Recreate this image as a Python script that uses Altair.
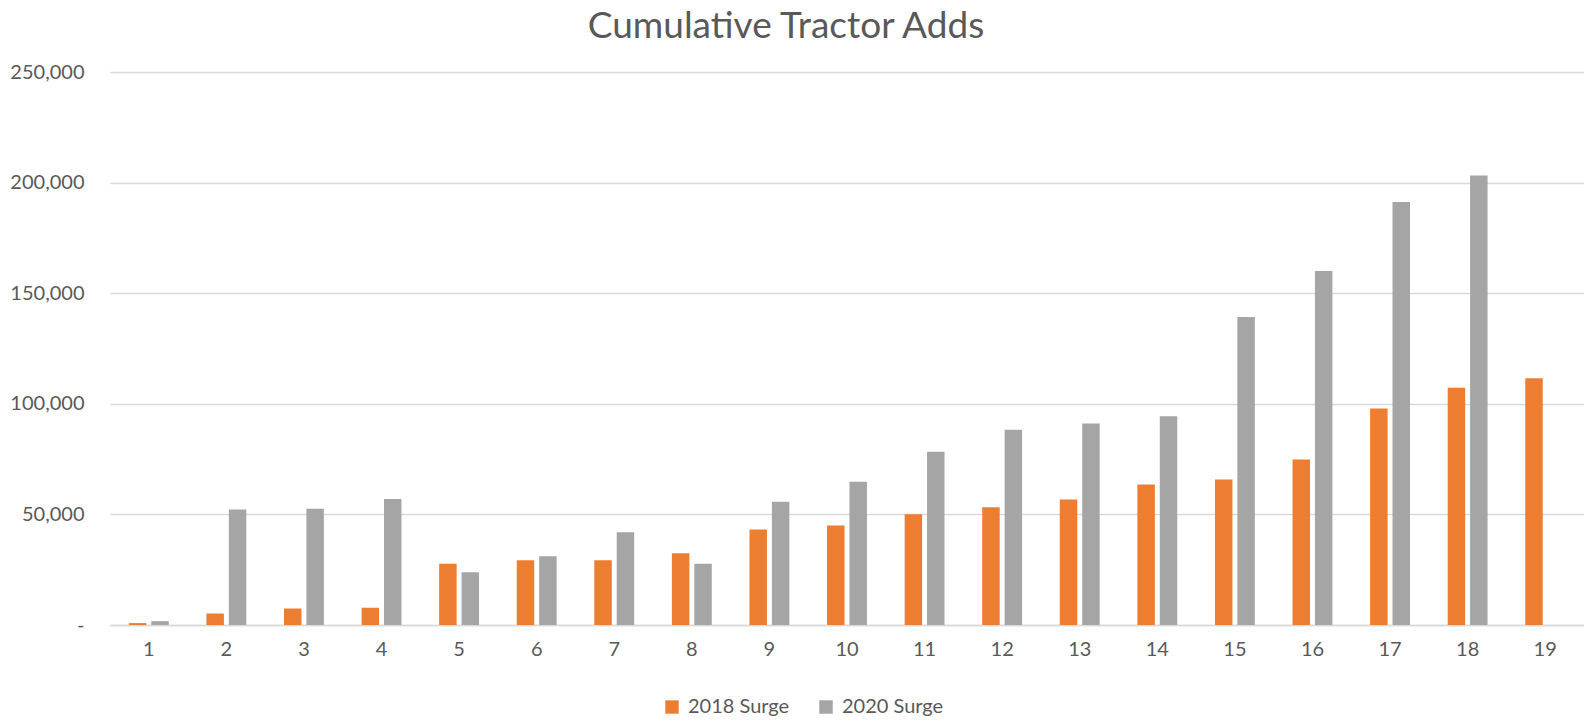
import altair as alt
import pandas as pd

weeks = list(range(1, 20))
surge_2018 = [870, 5200, 7450, 7800, 27640, 29270, 29270, 32440, 43160, 44970,
              50080, 53250, 56730, 63520, 65780, 74830, 97900, 107260, 111600]
surge_2020 = [1740, 52260, 52600, 56940, 23850, 31090, 41940, 27640, 55690, 64740,
              78310, 88260, 91110, 94420, 139200, 160020, 191240, 203170, None]
series = ["2018 Surge", "2020 Surge"]
colors = ["#ED7D31", "#A5A5A5"]
y_ticks = [0, 50000, 100000, 150000, 200000, 250000]

rows = []
for i, w in enumerate(weeks):
    rows.append({"week": w, "series": series[0], "value": surge_2018[i]})
    if surge_2020[i] is not None:
        rows.append({"week": w, "series": series[1], "value": surge_2020[i]})
df = pd.DataFrame(rows)

FONT = "Lato"
TXT = "#595959"
GRID = "#D9D9D9"

chart = alt.Chart(df).mark_bar().encode(
    x=alt.X("week:O",
            scale=alt.Scale(paddingInner=0.486, paddingOuter=0.243),
            axis=alt.Axis(title=None, labelAngle=0, ticks=False, domainColor=GRID,
                          domainWidth=1.5, labelColor=TXT, labelFont=FONT,
                          labelFontSize=20, labelPadding=14, grid=False)),
    xOffset=alt.XOffset("series:N", scale=alt.Scale(domain=series, paddingInner=0.22, paddingOuter=0)),
    y=alt.Y("value:Q",
            scale=alt.Scale(domain=[0, 250000]),
            axis=alt.Axis(title=None, values=y_ticks, ticks=False, domain=False,
                          gridColor=GRID, gridWidth=1.5, labelColor=TXT,
                          labelFont=FONT, labelFontSize=20, labelPadding=26,
                          labelExpr="datum.value == 0 ? '-\u00a0\u00a0\u00a0' : format(datum.value, ',')")),
    color=alt.Color("series:N",
                    scale=alt.Scale(domain=series, range=colors),
                    legend=alt.Legend(title=None, orient="none", legendX=552, legendY=625,
                                      direction="horizontal", symbolType="square",
                                      symbolSize=180, symbolStrokeWidth=0,
                                      labelFont=FONT, labelFontSize=20, labelColor=TXT,
                                      columnPadding=26, labelOffset=6)),
).properties(
    width=1474,
    height=553,
    title=alt.TitleParams("Cumulative Tractor Adds", font=FONT, fontSize=37,
                          fontWeight="normal", color=TXT, anchor="middle",
                          frame="group", dx=-61, offset=16),
    padding={"left": 102, "top": 64, "right": 0, "bottom": 91},
    autosize=alt.AutoSizeParams(type="none"),
).configure_view(stroke=None)

chart.save("out.html", embed_options={"renderer": "svg", "actions": False})
